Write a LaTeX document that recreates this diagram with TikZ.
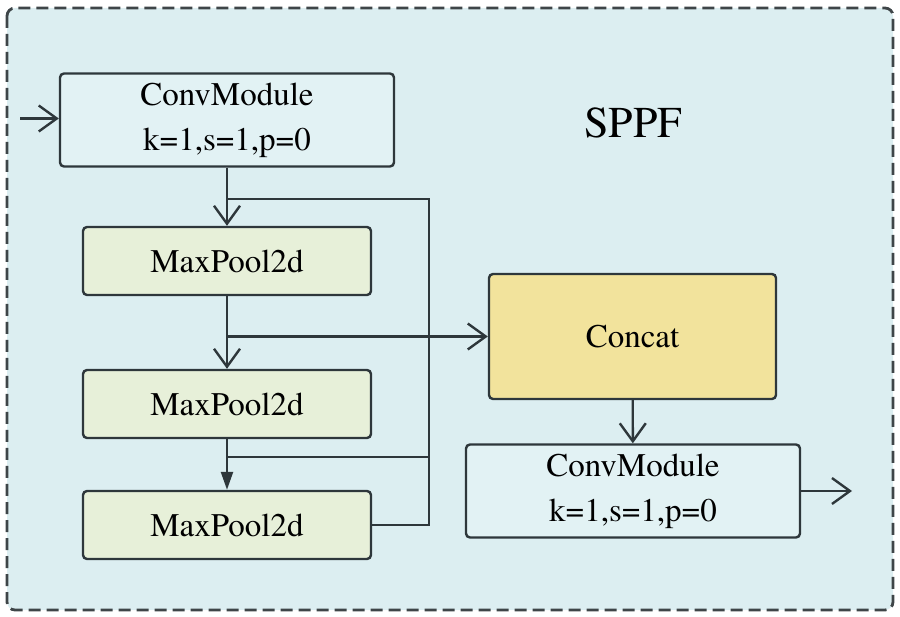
\documentclass[tikz,border=0pt]{standalone}
\usepackage{fontspec}
\IfFontExistsTF{TeX Gyre Termes}
  {\newfontfamily\tnr{TeX Gyre Termes}}
  {\newfontfamily\tnr{Liberation Serif}}
\usetikzlibrary{arrows.meta}
\definecolor{lineclr}{HTML}{2E373B}
\definecolor{dashclr}{HTML}{3E4548}
\definecolor{bgclr}{HTML}{DCEEF1}
\definecolor{convclr}{HTML}{E2F2F4}
\definecolor{poolclr}{HTML}{E7F0D9}
\definecolor{catclr}{HTML}{F2E39C}
\tikzset{
  box/.style={draw=lineclr, line width=2.4pt, rounded corners=4pt, inner sep=0pt,
    align=center, font=\tnr\fontsize{33}{45}\selectfont},
  conv/.style={box, fill=convclr, minimum width=334pt, minimum height=93pt},
  pool/.style={box, fill=poolclr, minimum width=288pt, minimum height=68pt},
  link/.style={draw=lineclr, line width=2.4pt},
}
\begin{document}
\begin{tikzpicture}[x=1pt, y=-1pt, >={Straight Barb[length=18pt,width=26pt]}]
      \useasboundingbox (0,0) rectangle (900,617);
      \draw[dashclr, fill=bgclr, line width=2.8pt, dash pattern=on 12pt off 6pt, rounded corners=8pt]
        (7,8) rectangle (893,610);
      % left column
      \node[conv] (in) at (227,120) {ConvModule\\k=1,s=1,p=0};
      \node[pool] (p1) at (227,261) {MaxPool2d};
      \node[pool] (p2) at (227,404) {MaxPool2d};
      \node[pool] (p3) at (227,525) {MaxPool2d};
      % right column
      \node[box, fill=catclr, minimum width=287pt, minimum height=125pt] (cat) at (632.5,336.5) {Concat};
      \node[conv] (out) at (633,491) {ConvModule\\k=1,s=1,p=0};
      \node[font=\tnr\fontsize{44}{50}\selectfont] (title) at (633,123) {SPPF};
      \coordinate (src) at (20,118.5);
      \coordinate (dst) at (852,491);
      \coordinate (b1) at (227,199);
      \coordinate (b3) at (227,457);
      \coordinate (rail) at (429,199);
      % connectors
      \path[->] (src) edge[link] (src -| in.west);
      \path[->] (in) edge[link] (p1);
      \path[->] (p1) edge[link] (p2);
      \path[-{Triangle[length=18pt,width=12pt]}] (p2) edge[link] (p3);
      \path[->] (p1.south |- cat.west) edge[link] (cat.west);
      \path[->] (cat) edge[link] (out);
      \path[->] (out.east) edge[link] (dst);
      \draw[link] (p3.east) -| (rail) -- (b1);
      \draw[link] (b3) -- (b3 -| rail);
    \end{tikzpicture}
\end{document}
